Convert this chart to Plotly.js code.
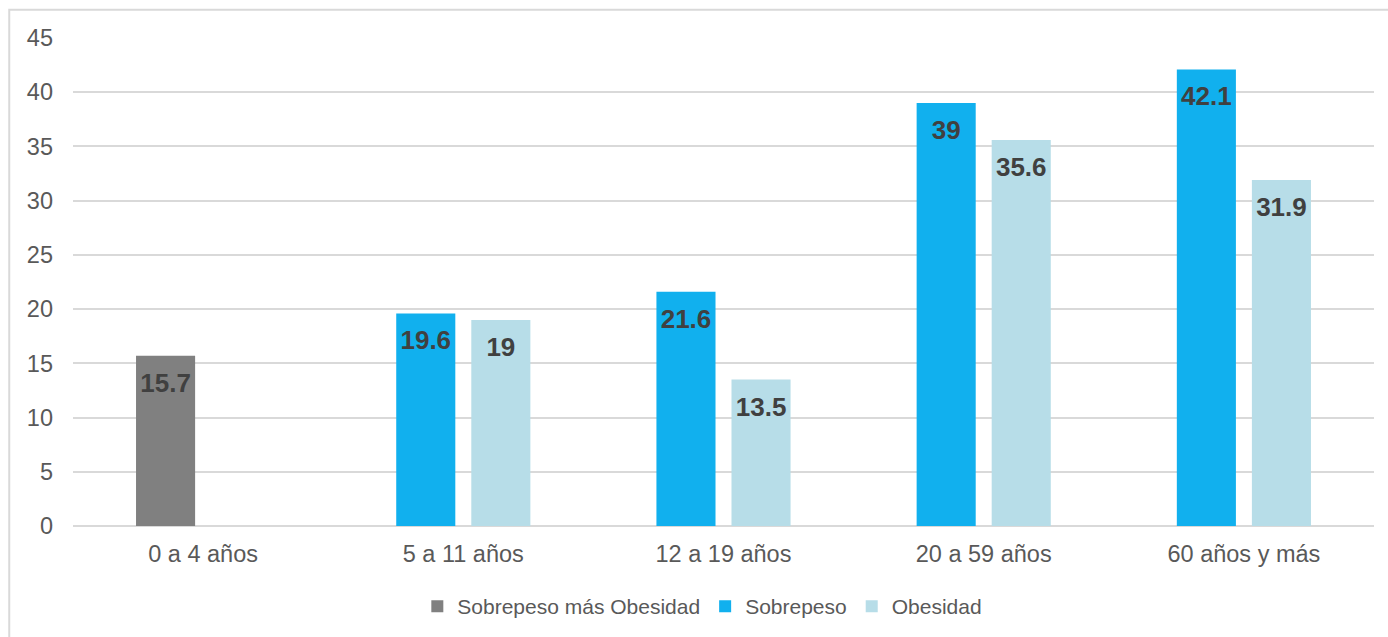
<!DOCTYPE html>
<html>
<head>
<meta charset="utf-8">
<script src="https://cdn.plot.ly/plotly-3.0.1.min.js"></script>
<style>
  html, body { margin: 0; padding: 0; background: #ffffff; }
  #chart { width: 1388px; height: 637px; }
</style>
</head>
<body>
<div id="chart"></div>
<script>
// Age groups on the category axis
const grupos = ['0 a 4 años', '5 a 11 años', '12 a 19 años', '20 a 59 años', '60 años y más'];

// Prevalence (%) by age group
const sobrepesoMasObesidad = [15.7, null, null, null, null];
const sobrepeso = [null, 19.6, 21.6, 39, 42.1];
const obesidad = [null, 19, 13.5, 35.6, 31.9];

const labelFont = { family: 'Liberation Sans, Arial, sans-serif', size: 26, color: '#404040', weight: 'bold' };

// A wide non-breaking space on each side gives the value label some headroom
// below the top of its bar while keeping it centred.
const pad = '<span style="font-size:37px">\u00a0</span>';

function barTrace(name, values, color, group) {
  return {
    type: 'bar',
    name: name,
    x: grupos,
    y: values,
    offsetgroup: group,
    marker: { color: color },
    text: values.map(v => v === null ? '' : pad + String(v) + pad),
    textposition: 'inside',
    insidetextanchor: 'end',
    textangle: 0,
    constraintext: 'none',
    textfont: labelFont,
    hoverinfo: 'x+y+name'
  };
}

const data = [
  barTrace('Sobrepeso más Obesidad', sobrepesoMasObesidad, '#808080', 'a'),
  barTrace('Sobrepeso', sobrepeso, '#11b0ee', 'a'),
  barTrace('Obesidad', obesidad, '#b7dde8', 'b')
];

const layout = {
  width: 1388,
  height: 637,
  margin: { l: 73, r: 14, t: 38, b: 111 },
  paper_bgcolor: '#ffffff',
  plot_bgcolor: '#ffffff',
  font: { family: 'Liberation Sans, Arial, sans-serif', color: '#595959', size: 23 },
  barmode: 'group',
  bargap: 0.423,
  bargroupgap: 0.213,
  xaxis: {
    type: 'category',
    showgrid: false,
    showline: false,
    ticks: '',
    automargin: false,
    tickfont: { size: 23.5, color: '#595959' },
    ticklabelstandoff: 11
  },
  yaxis: {
    range: [0, 45],
    dtick: 5,
    showgrid: true,
    gridcolor: '#d9d9d9',
    gridwidth: 2,
    zeroline: true,
    zerolinecolor: '#d9d9d9',
    zerolinewidth: 2,
    showline: false,
    ticks: '',
    automargin: false,
    tickfont: { size: 23.5, color: '#595959' },
    ticklabelstandoff: 19
  },
  legend: {
    orientation: 'h',
    xref: 'container',
    yref: 'container',
    x: 0.506,
    xanchor: 'center',
    y: 0.08,
    yanchor: 'top',
    font: { size: 21, color: '#595959' },
    itemwidth: 30,
    traceorder: 'normal'
  },
  shapes: [
    {
      type: 'rect', xref: 'paper', yref: 'paper',
      x0: -0.049, x1: 1.2, y0: -0.3, y1: 1.058,
      line: { color: '#d9d9d9', width: 2 },
      fillcolor: 'rgba(0,0,0,0)',
      layer: 'below'
    }
  ],
  showlegend: true
};

Plotly.newPlot('chart', data, layout, { displayModeBar: false, staticPlot: true });
</script>
</body>
</html>
